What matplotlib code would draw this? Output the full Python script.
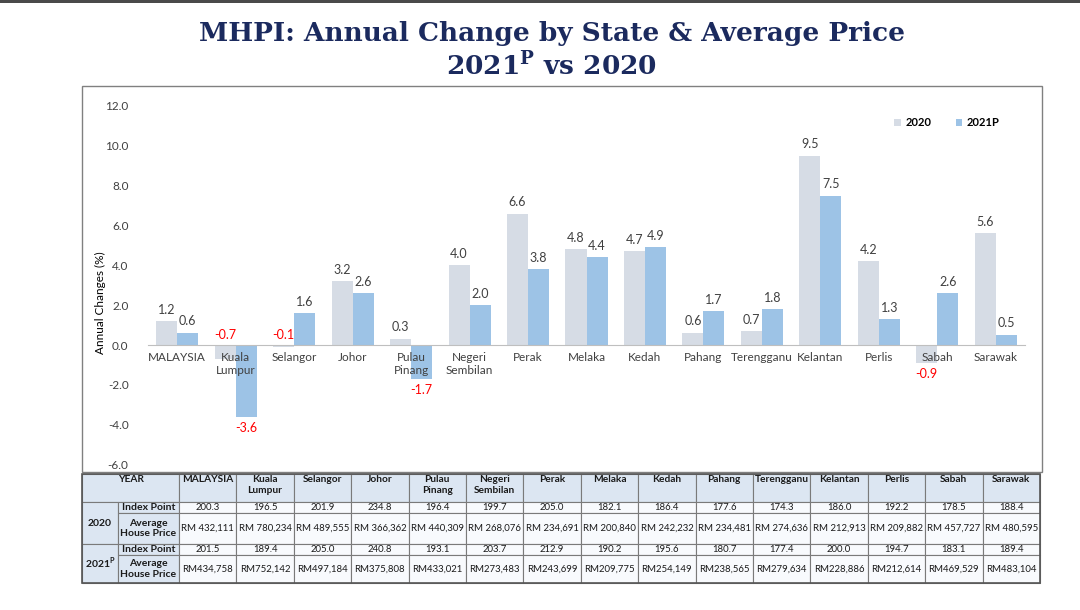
import numpy as np
import matplotlib.pyplot as plt
from matplotlib.patches import Rectangle
from matplotlib.ticker import FormatStrFormatter

plt.rcParams['font.family'] = ['Lato', 'DejaVu Sans']
plt.rcParams['mathtext.fontset'] = 'custom'
plt.rcParams['mathtext.rm'] = 'DejaVu Serif:bold'
plt.rcParams['mathtext.sf'] = 'Lato:bold'

# data
states = ['MALAYSIA', 'Kuala\nLumpur', 'Selangor', 'Johor', 'Pulau\nPinang',
          'Negeri\nSembilan', 'Perak', 'Melaka', 'Kedah', 'Pahang',
          'Terengganu', 'Kelantan', 'Perlis', 'Sabah', 'Sarawak']
chg_2020 = [1.2, -0.7, -0.1, 3.2, 0.3, 4.0, 6.6, 4.8, 4.7, 0.6, 0.7, 9.5, 4.2, -0.9, 5.6]
chg_2021 = [0.6, -3.6, 1.6, 2.6, -1.7, 2.0, 3.8, 4.4, 4.9, 1.7, 1.8, 7.5, 1.3, 2.6, 0.5]

idx_2020 = ['200.3', '196.5', '201.9', '234.8', '196.4', '199.7', '205.0', '182.1',
            '186.4', '177.6', '174.3', '186.0', '192.2', '178.5', '188.4']
price_2020 = ['RM 432,111', 'RM 780,234', 'RM 489,555', 'RM 366,362', 'RM 440,309',
              'RM 268,076', 'RM 234,691', 'RM 200,840', 'RM 242,232', 'RM 234,481',
              'RM 274,636', 'RM 212,913', 'RM 209,882', 'RM 457,727', 'RM 480,595']
idx_2021 = ['201.5', '189.4', '205.0', '240.8', '193.1', '203.7', '212.9', '190.2',
            '195.6', '180.7', '177.4', '200.0', '194.7', '183.1', '189.4']
price_2021 = ['RM434,758', 'RM752,142', 'RM497,184', 'RM375,808', 'RM433,021',
              'RM273,483', 'RM243,699', 'RM209,775', 'RM254,149', 'RM238,565',
              'RM279,634', 'RM228,886', 'RM212,614', 'RM469,529', 'RM483,104']

W, H = 1080, 610


def fx(px):
    return px / W


def fy(py):
    return 1 - py / H


fig = plt.figure(figsize=(10.8, 6.1), dpi=100)
fig.patch.set_facecolor('white')

# dark strip at the very top of the slide
fig.add_artist(Rectangle((0, fy(3)), 1, 3 / H, transform=fig.transFigure,
                         facecolor='#4a4a4a', edgecolor='none'))

# title
navy = '#1b2a5e'
fig.text(0.511, fy(34), 'MHPI: Annual Change by State & Average Price', ha='center',
         va='center', fontsize=19, fontweight='bold', family='DejaVu Serif', color=navy)
fig.text(0.511, fy(66), '2021$^{\\mathrm{P}}$ vs 2020', ha='center', va='center',
         fontsize=19, fontweight='bold', family='DejaVu Serif', color=navy)

# chart frame
fig.add_artist(Rectangle((fx(82), fy(472)), fx(1042) - fx(82), fy(86) - fy(472),
                         transform=fig.transFigure, facecolor='none',
                         edgecolor='#808080', lw=1))

ax = fig.add_axes([fx(148), fy(464.5), (1025 - 148) / W, (464.5 - 106) / H])
ax.set_facecolor('none')
ax.set_axisbelow(False)
x = np.arange(len(states))
w = 0.36
b1 = ax.bar(x - w / 2, chg_2020, w, color='#D6DCE5', label='2020', zorder=1)
b2 = ax.bar(x + w / 2, chg_2021, w, color='#9DC3E6', label='2021P', zorder=1)

ax.set_xlim(-0.5, 14.5)
ax.set_ylim(-6, 12)
ax.set_yticks(np.arange(-6, 13, 2))
ax.yaxis.set_major_formatter(FormatStrFormatter('%.1f'))
ax.spines[['top', 'right', 'left']].set_visible(False)
ax.spines['bottom'].set_position(('data', 0))
ax.spines['bottom'].set_color('#BFBFBF')
ax.set_xticks(x, states)
ax.tick_params(axis='x', length=0, pad=5, labelsize=8.5, labelcolor='#404040')
ax.tick_params(axis='y', length=0, pad=14, labelsize=8.5, labelcolor='#404040')
fig.text(fx(100), fy(303), 'Annual Changes (%)', rotation=90, ha='center', va='center',
         fontsize=8.5, color='#000000')

# value labels; the two small 2020 dips are written above the zero line
lift = {1, 2}
for i in range(len(states)):
    for xs, v, series in ((x[i] - w / 2, chg_2020[i], 2020), (x[i] + w / 2, chg_2021[i], 2021)):
        txt = '%.1f' % v
        if v >= 0:
            ax.annotate(txt, (xs, v), xytext=(0, 4), textcoords='offset points',
                        ha='center', va='bottom', fontsize=9, color='#404040')
        elif series == 2020 and i in lift:
            ax.annotate(txt, (xs, 0), xytext=(0, 3), textcoords='offset points',
                        ha='center', va='bottom', fontsize=9, color='#FF0000')
        else:
            ax.annotate(txt, (xs, v), xytext=(0, -4), textcoords='offset points',
                        ha='center', va='top', fontsize=9, color='#FF0000')

ax.legend(loc='center left', bbox_to_anchor=(fx(884), fy(123)), bbox_transform=fig.transFigure,
          ncol=2, frameon=False, handlelength=0.6, handleheight=0.6, handletextpad=0.4,
          columnspacing=2.2, prop={'size': 8, 'weight': 'bold'})

# table under the chart
edge = '#7a7a7a'
shade = '#DCE6F2'
plain = '#F8FAFD'
col0, col1, col2, col_end = 82, 118, 179, 1040
cw = (col_end - col2) / len(states)
rows = [474, 502, 513, 544, 555, 583]


def cell(x0, x1, y0, y1, text, fc, bold=False, va='center', size=6.9):
    fig.add_artist(Rectangle((fx(x0), fy(y1)), fx(x1) - fx(x0), fy(y0) - fy(y1),
                             transform=fig.transFigure, facecolor=fc, edgecolor=edge, lw=0.8))
    ty = (y0 + y1) / 2 if va == 'center' else y0 + 1.5
    fig.text(fx((x0 + x1) / 2), fy(ty), text, ha='center', va=va, fontsize=size,
             fontweight='bold' if bold else 'normal', color='#1a1a1a', linespacing=1.15)


cell(col0, col2, rows[0], rows[1], 'YEAR', shade, bold=True, va='top', size=7.3)
for j, name in enumerate(states):
    cell(col2 + j * cw, col2 + (j + 1) * cw, rows[0], rows[1], name, shade, bold=True,
         va='top', size=7.3)

cell(col0, col1, rows[1], rows[3], '2020', shade, bold=True, size=7.5)
cell(col0, col1, rows[3], rows[5], '2021$^{\\mathsf{P}}$', shade, bold=True, size=7.5)
for r0, label in ((1, 'Index Point'), (2, 'Average\nHouse Price'),
                  (3, 'Index Point'), (4, 'Average\nHouse Price')):
    cell(col1, col2, rows[r0], rows[r0 + 1], label, shade, bold=True, size=7.5)

for r0, vals in ((1, idx_2020), (2, price_2020), (3, idx_2021), (4, price_2021)):
    for j, v in enumerate(vals):
        cell(col2 + j * cw, col2 + (j + 1) * cw, rows[r0], rows[r0 + 1], v, plain)

fig.add_artist(Rectangle((fx(col0), fy(rows[-1])), fx(col_end) - fx(col0), fy(rows[0]) - fy(rows[-1]),
                         transform=fig.transFigure, facecolor='none', edgecolor='#555555', lw=1.2))

fig.savefig('out.png', dpi=100)
